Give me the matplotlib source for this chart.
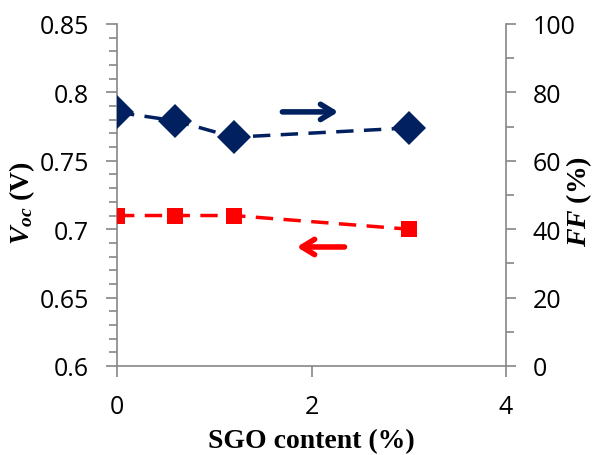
import matplotlib
matplotlib.use("Agg")
import matplotlib.pyplot as plt
from matplotlib.ticker import MultipleLocator, FuncFormatter

# Data
sgo = [0, 0.6, 1.2, 3]
voc = [0.71, 0.71, 0.71, 0.70]
ff = [74.2, 71.7, 66.9, 69.6]

plt.rcParams['mathtext.fontset'] = 'custom'
plt.rcParams['mathtext.it'] = 'Liberation Serif:italic:bold'
plt.rcParams['mathtext.rm'] = 'Liberation Serif:bold'
plt.rcParams['mathtext.bf'] = 'Liberation Serif:bold'

axis_grey = '#868686'
navy = '#002060'
red = '#ff0000'
tick_font = dict(family='Open Sans', size=18)
label_font = dict(family='Liberation Serif', weight='bold', size=20)

fig = plt.figure(figsize=(5.97, 4.56), dpi=100)
fig.subplots_adjust(left=117/597, right=506/597, top=1-25/456, bottom=1-367/456)
ax = fig.add_subplot(111)
ax2 = ax.twinx()

# Voc on left axis
ax.plot(sgo, voc, color=red, ls=(0, (5, 3)), lw=2.5, marker='s', ms=11,
        markeredgewidth=0, zorder=3)
# FF on right axis
ax2.plot(sgo, ff, color=navy, ls=(0, (5, 3)), lw=2.5, marker='D', ms=17,
         markeredgewidth=0, zorder=3)

ax.set_xlim(0, 4)
ax.set_ylim(0.6, 0.85)
ax2.set_ylim(0, 100)

ax.xaxis.set_major_locator(MultipleLocator(2))
ax.yaxis.set_major_locator(MultipleLocator(0.05))
ax.yaxis.set_minor_locator(MultipleLocator(0.01))
ax.yaxis.set_major_formatter(FuncFormatter(lambda v, p: '{:g}'.format(round(v, 2))))
ax2.yaxis.set_major_locator(MultipleLocator(20))
ax2.yaxis.set_minor_locator(MultipleLocator(10))

for a in (ax, ax2):
    for side in ('left', 'right', 'bottom'):
        a.spines[side].set_color(axis_grey)
        a.spines[side].set_linewidth(1.2)
    a.spines['top'].set_visible(False)

ax.spines['right'].set_visible(False)
ax2.spines['left'].set_visible(False)
ax2.spines['bottom'].set_visible(False)

ax.tick_params(axis='x', direction='out', length=8, width=1.2, color=axis_grey, pad=12)
ax.tick_params(axis='y', which='major', direction='out', length=8, width=1.2,
               color=axis_grey, pad=12)
ax.tick_params(axis='y', which='minor', direction='out', length=6, width=1.2, color=axis_grey)
ax2.tick_params(axis='y', which='major', direction='out', length=7, width=1.2,
                color=axis_grey, pad=12)
ax2.tick_params(axis='y', which='minor', direction='out', length=6, width=1.2, color=axis_grey)

for lab in ax.get_xticklabels() + ax.get_yticklabels() + ax2.get_yticklabels():
    lab.set_fontfamily(tick_font['family'])
    lab.set_fontsize(tick_font['size'])

ax.set_xlabel('SGO content (%)', **label_font, labelpad=7)
ax.text(-0.245, 0.48, r'$V_{oc}$ (V)', transform=ax.transAxes, rotation=90,
        ha='center', va='center', **label_font)
ax2.text(1.187, 0.485, r'$FF$ (%)', transform=ax2.transAxes, rotation=90,
         ha='center', va='center', **label_font)

# direction arrows
ax.annotate('', xy=(0.576, 0.743), xytext=(0.418, 0.743), xycoords='axes fraction',
            arrowprops=dict(arrowstyle='->, head_length=0.9, head_width=0.55',
                            color=navy, lw=4))
ax.annotate('', xy=(0.455, 0.348), xytext=(0.592, 0.348), xycoords='axes fraction',
            arrowprops=dict(arrowstyle='->, head_length=0.9, head_width=0.55',
                            color=red, lw=4))

fig.savefig('out.png', dpi=100)
